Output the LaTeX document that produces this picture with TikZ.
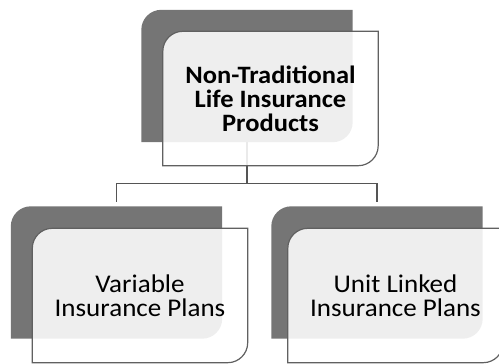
\documentclass[tikz,border=0pt]{standalone}
\usepackage{fontspec}
\setmainfont{Carlito}[FakeStretch=1.06]
\definecolor{darkc}{HTML}{757575}
\definecolor{edgec}{HTML}{606060}
\definecolor{linec}{HTML}{555555}
\newcommand\cornerbox[2]{\path[#2] (#1.south west) -- ([yshift=-20pt]#1.north west) arc[start angle=180,end angle=90,radius=20pt] -- (#1.north east) -- ([yshift=20pt]#1.south east) arc[start angle=0,end angle=-90,radius=20pt] -- cycle;}
\tikzset{
  darkbox/.style={minimum width=211pt,minimum height=132pt,inner sep=0pt},
  lightbox/.style={minimum width=215pt,minimum height=134pt,inner sep=0pt,align=center,text=black},
  topfont/.style={font=\fontsize{25}{24}\selectfont\bfseries},
  subfont/.style={font=\fontsize{25.5}{24}\selectfont},
  conn/.style={draw=linec,line width=1.2pt},
  darkfill/.style={fill=darkc},
  lightfill/.style={fill=white,fill opacity=0.88,draw=edgec,draw opacity=1,line width=1.2pt}
}
\begin{document}
\begin{tikzpicture}[x=1pt,y=1pt]
\useasboundingbox (0,0) rectangle (499,364);
% named shapes
\node[darkbox] (topd) at (247,288) {};
\node[darkbox] (leftd) at (116.5,91.5) {};
\node[darkbox] (rightd) at (377,91.5) {};
\node[lightbox] (topl) at (270.5,265.5) {};
\node[lightbox] (leftl) at (140,68.5) {};
\node[lightbox] (rightl) at (395.5,68.5) {};
% dark back shapes
\cornerbox{topd}{darkfill}
\cornerbox{leftd}{darkfill}
\cornerbox{rightd}{darkfill}
% connectors
\coordinate (junc) at ([yshift=-41pt]topd.south);
\draw[conn] (topd.south) -- (junc) -| ([yshift=4pt]leftd.north);
\draw[conn] (junc) -| ([yshift=4pt]rightd.north);
% light front boxes
\cornerbox{topl}{lightfill}
\cornerbox{leftl}{lightfill}
\cornerbox{rightl}{lightfill}
% texts
\node[topfont,align=center] (toptext) at (topl.center) {Non-Traditional\\Life Insurance\\Products};
\node[subfont,align=center] (lefttext) at (leftl.center) {Variable\\Insurance Plans};
\node[subfont,align=center] (righttext) at (rightl.center) {Unit Linked\\Insurance Plans};
\end{tikzpicture}
\end{document}
